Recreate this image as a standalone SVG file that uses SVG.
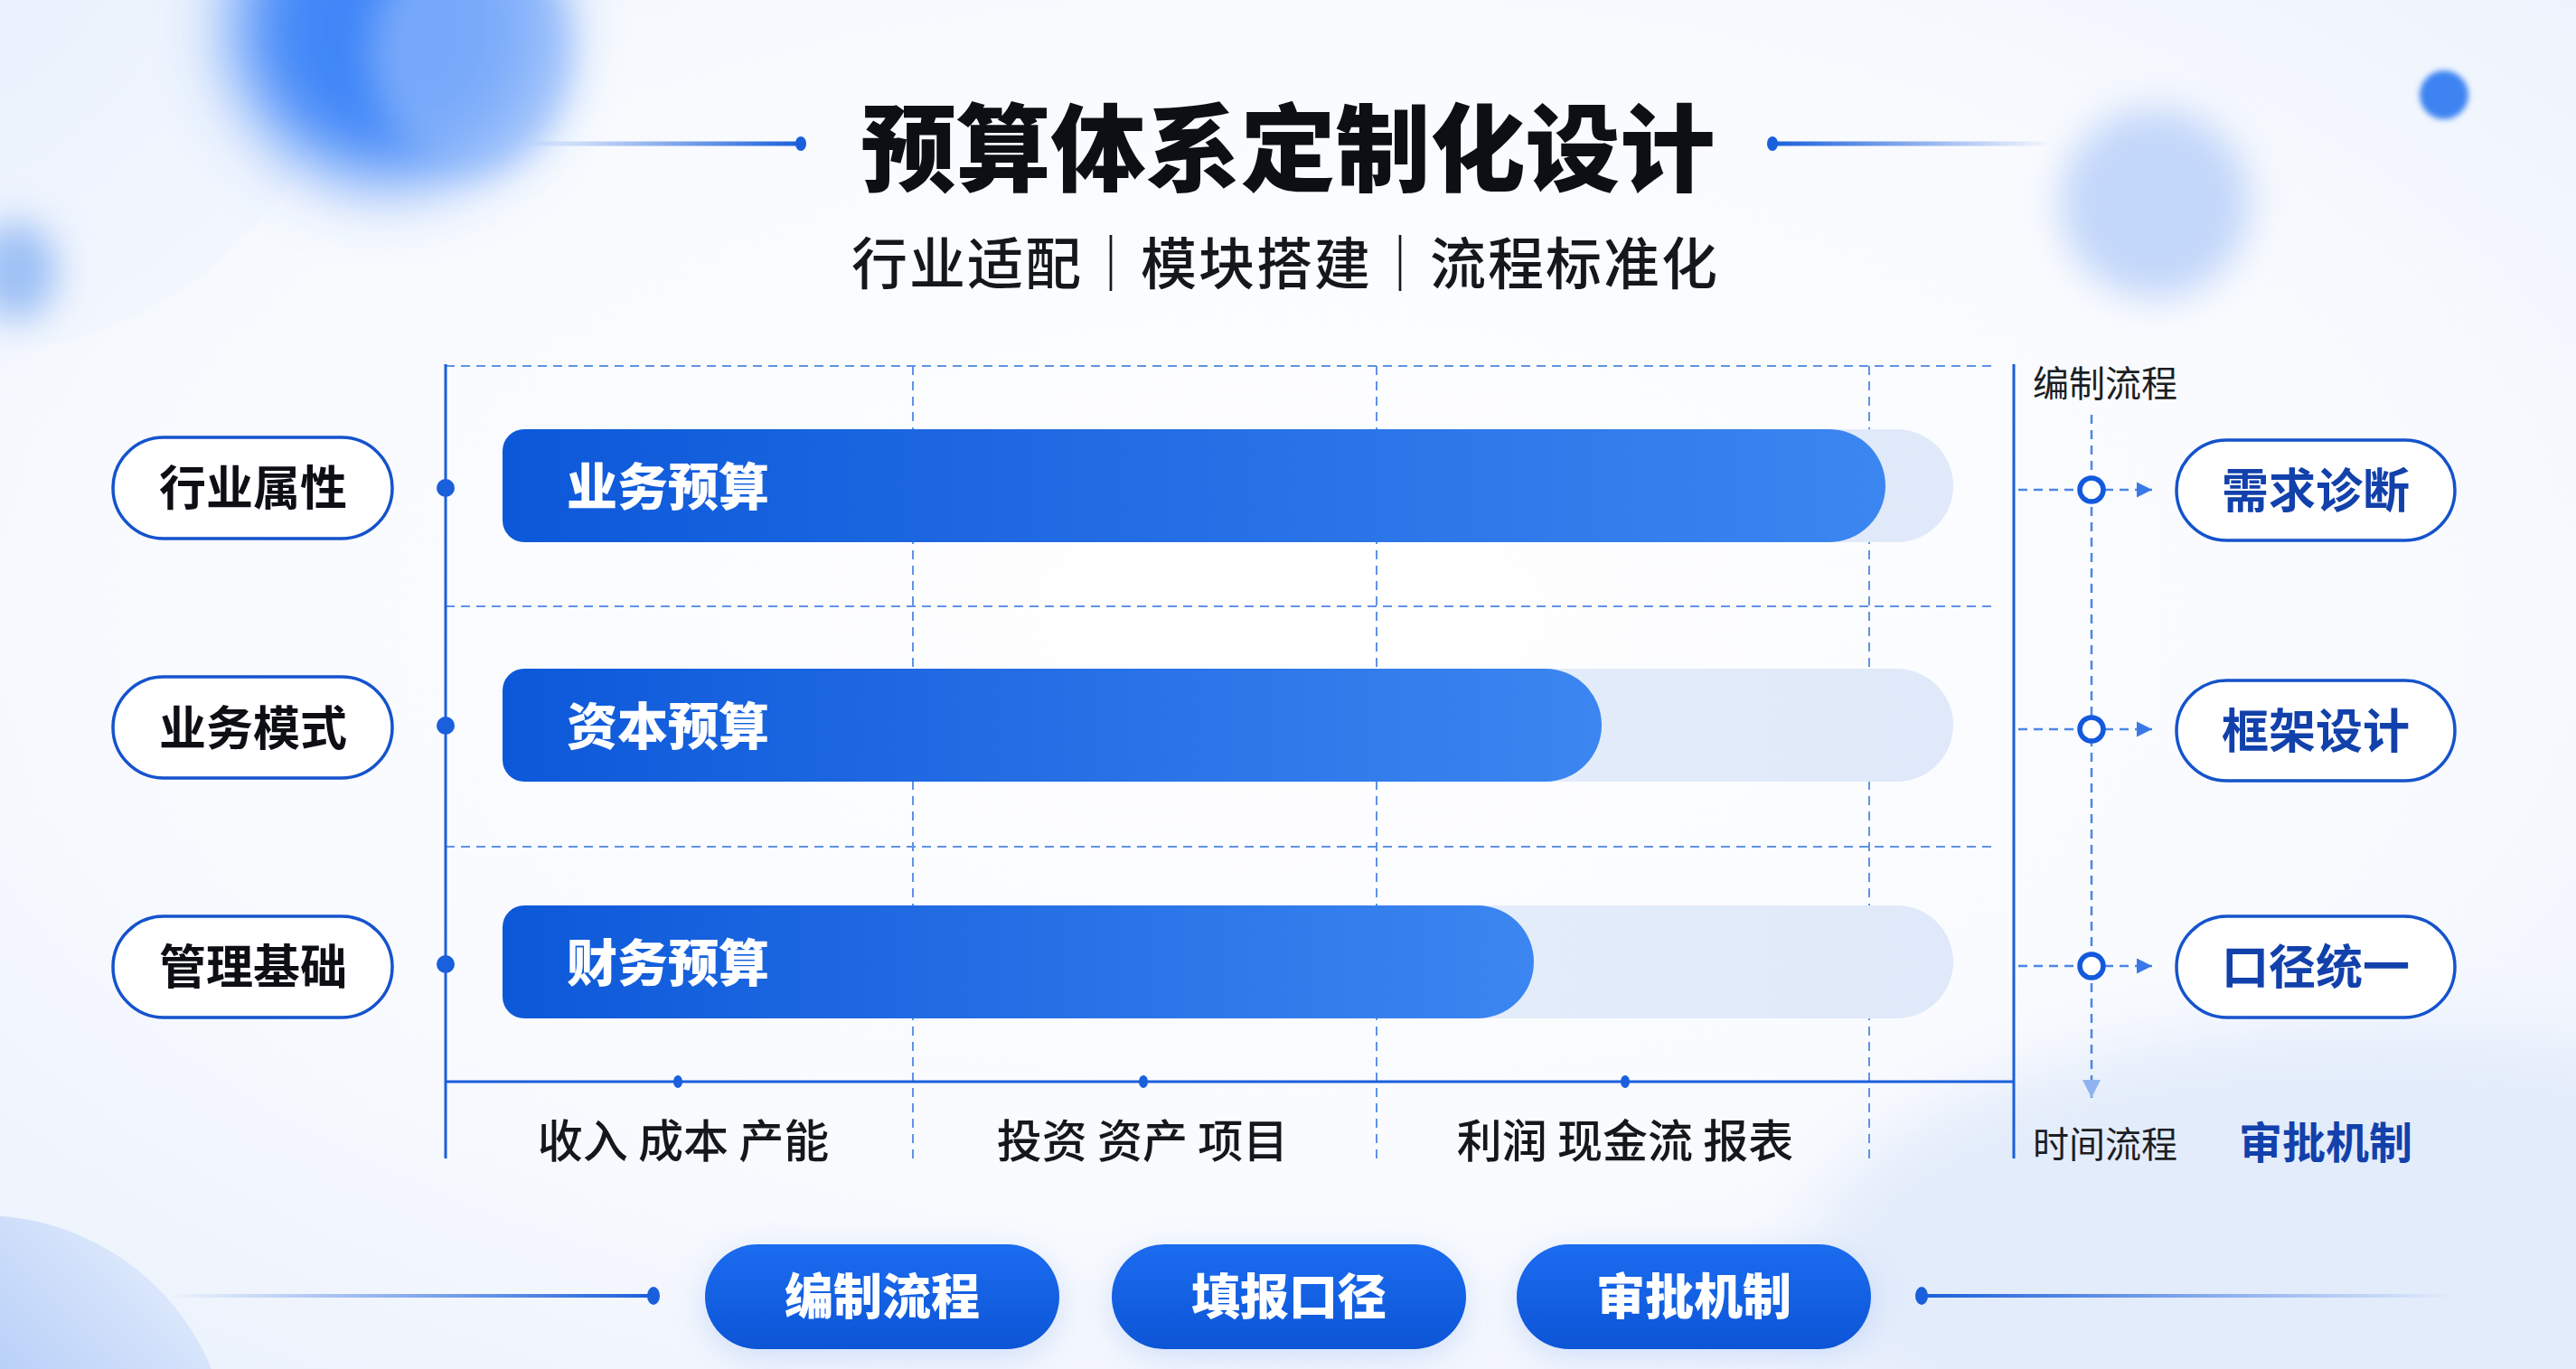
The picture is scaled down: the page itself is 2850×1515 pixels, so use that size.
<svg xmlns="http://www.w3.org/2000/svg" width="2850" height="1515" viewBox="0 0 2850 1515">
<defs>
<style>
.cjk{font-family:"Noto Sans CJK SC","Noto Sans CJK TC",sans-serif;}
.title{font-size:105px;font-weight:900;fill:#0d0f14;}
.sub{font-size:62px;font-weight:500;fill:#15171c;}
.pillL{fill:#ffffff;stroke:#1553cc;stroke-width:3.5;}
.pillLt{font-size:52px;font-weight:700;fill:#0d0f14;}
.pillRt{font-size:52px;font-weight:700;fill:#1241ab;}
.barT{font-size:56px;font-weight:800;fill:#ffffff;}
.axisT{font-size:50px;font-weight:500;fill:#15171c;}
.small{font-size:40px;font-weight:400;fill:#1c1e24;}
.btnT{font-size:54px;font-weight:800;fill:#ffffff;}
.grid{stroke:#5f93e6;stroke-width:2;stroke-dasharray:10 7;fill:none;}
.axis{stroke:#1a5fdc;stroke-width:3;fill:none;}
.flow{stroke:#4d86e6;stroke-width:2.5;stroke-dasharray:10 7;fill:none;}
.ring{fill:#ffffff;stroke:#1459dd;stroke-width:5.5;}
.dot{fill:#1a5fdc;}
</style>
<linearGradient id="barG" x1="0" y1="0" x2="1" y2="0">
<stop offset="0" stop-color="#0d58d9"/>
<stop offset="1" stop-color="#3c86f1"/>
</linearGradient>
<linearGradient id="trackG" x1="0" y1="0" x2="1" y2="0">
<stop offset="0" stop-color="#eef3fc"/>
<stop offset="1" stop-color="#dfe9f9"/>
</linearGradient>
<linearGradient id="btnG" x1="0" y1="0" x2="0" y2="1">
<stop offset="0" stop-color="#1c6cf0"/>
<stop offset="1" stop-color="#0c55d6"/>
</linearGradient>
<linearGradient id="lineL" x1="0" y1="0" x2="1" y2="0">
<stop offset="0" stop-color="#1a5fdc" stop-opacity="0"/>
<stop offset="1" stop-color="#1a5fdc"/>
</linearGradient>
<linearGradient id="lineR" x1="0" y1="0" x2="1" y2="0">
<stop offset="0" stop-color="#1a5fdc"/>
<stop offset="1" stop-color="#1a5fdc" stop-opacity="0"/>
</linearGradient>
<radialGradient id="bgG" cx="0.5" cy="0.45" r="0.75">
<stop offset="0" stop-color="#ffffff"/>
<stop offset="0.6" stop-color="#f8fafe"/>
<stop offset="1" stop-color="#eaf1fc"/>
</radialGradient>
<radialGradient id="paleG" cx="0.3" cy="0.3" r="0.8">
<stop offset="0" stop-color="#e4edfc"/>
<stop offset="1" stop-color="#f3f7fe"/>
</radialGradient>
<linearGradient id="blBlob" x1="0" y1="1" x2="1" y2="0">
<stop offset="0" stop-color="#7ea8f3"/>
<stop offset="0.6" stop-color="#b7cff8"/>
<stop offset="1" stop-color="#eef4fd"/>
</linearGradient>
<filter id="blur40" x="-50%" y="-50%" width="200%" height="200%"><feGaussianBlur stdDeviation="40"/></filter>
<filter id="blur20" x="-50%" y="-50%" width="200%" height="200%"><feGaussianBlur stdDeviation="20"/></filter>
<filter id="blur3" x="-50%" y="-50%" width="200%" height="200%"><feGaussianBlur stdDeviation="3"/></filter>
<marker id="arrR" viewBox="0 0 10 10" refX="10" refY="5" markerWidth="17" markerHeight="20" markerUnits="userSpaceOnUse" orient="auto">
<path d="M0,0 L10,5 L0,10 Z" fill="#3a78e8"/>
</marker>
<marker id="arrD" viewBox="0 0 10 10" refX="10" refY="5" markerWidth="20" markerHeight="24" markerUnits="userSpaceOnUse" orient="auto">
<path d="M0,0 L10,5 L0,10 Z" fill="#8fb3f0"/>
</marker>
</defs>

<g id="background">
<rect x="0" y="0" width="2850" height="1515" fill="url(#bgG)"/>
<ellipse cx="2600" cy="1400" rx="600" ry="260" fill="#e3ecfb" filter="url(#blur40)"/>
<circle cx="-30" cy="-30" r="420" fill="url(#paleG)"/>
<ellipse cx="430" cy="30" rx="170" ry="170" fill="#3f86f8" filter="url(#blur40)"/>
<ellipse cx="520" cy="60" rx="110" ry="130" fill="#8fb8fb" filter="url(#blur20)" opacity="0.7"/>
<ellipse cx="18" cy="300" rx="45" ry="55" fill="#9cc0f5" filter="url(#blur20)"/>
<circle cx="2384" cy="225" r="105" fill="#c3d7fa" filter="url(#blur20)"/>
<circle cx="2704" cy="105" r="27" fill="#3d83f2" filter="url(#blur3)"/>
<circle cx="-20" cy="1620" r="275" fill="url(#blBlob)"/>
</g>

<g id="title">
<text class="cjk title" x="1425" y="203" text-anchor="middle">预算体系定制化设计</text>
<text class="cjk sub" x="1422" y="315" text-anchor="middle" letter-spacing="2">行业适配｜模块搭建｜流程标准化</text>
</g>

<g id="connectors">
<!-- title lines -->
<rect x="582" y="156.5" width="304" height="5" fill="url(#lineL)"/>
<ellipse cx="886" cy="159" rx="6" ry="8" class="dot"/>
<rect x="1961" y="156.5" width="309" height="5" fill="url(#lineR)"/>
<ellipse cx="1961" cy="159" rx="6" ry="8" class="dot"/>
<!-- grid -->
<line class="grid" x1="493" y1="405" x2="2207" y2="405"/>
<line class="grid" x1="493" y1="671" x2="2207" y2="671"/>
<line class="grid" x1="493" y1="937" x2="2207" y2="937"/>
<line class="grid" x1="1010" y1="405" x2="1010" y2="1282"/>
<line class="grid" x1="1523" y1="405" x2="1523" y2="1282"/>
<line class="grid" x1="2068" y1="405" x2="2068" y2="1282"/>
<!-- axes -->
<line class="axis" x1="493" y1="403" x2="493" y2="1282"/>
<line class="axis" x1="2228" y1="403" x2="2228" y2="1282"/>
<line class="axis" x1="493" y1="1197" x2="2228" y2="1197"/>
<ellipse cx="750" cy="1197" rx="5" ry="7" class="dot"/>
<ellipse cx="1265" cy="1197" rx="5" ry="7" class="dot"/>
<ellipse cx="1798" cy="1197" rx="5" ry="7" class="dot"/>
<circle cx="493" cy="540" r="10" class="dot"/>
<circle cx="493" cy="803" r="10" class="dot"/>
<circle cx="493" cy="1067" r="10" class="dot"/>
<!-- flow on right -->
<line class="flow" x1="2314" y1="459" x2="2314" y2="1215" marker-end="url(#arrD)"/>
<line class="flow" x1="2233" y1="542" x2="2300" y2="542"/>
<line class="flow" x1="2328" y1="542" x2="2381" y2="542" marker-end="url(#arrR)"/>
<line class="flow" x1="2233" y1="807" x2="2300" y2="807"/>
<line class="flow" x1="2328" y1="807" x2="2381" y2="807" marker-end="url(#arrR)"/>
<line class="flow" x1="2233" y1="1069" x2="2300" y2="1069"/>
<line class="flow" x1="2328" y1="1069" x2="2381" y2="1069" marker-end="url(#arrR)"/>
<circle class="ring" cx="2314" cy="542" r="13"/>
<circle class="ring" cx="2314" cy="807" r="13"/>
<circle class="ring" cx="2314" cy="1069" r="13"/>
<!-- bottom lines -->
<rect x="188" y="1432" width="535" height="4" fill="url(#lineL)"/>
<ellipse cx="723" cy="1434" rx="7" ry="10" class="dot"/>
<rect x="2126" y="1432" width="590" height="4" fill="url(#lineR)"/>
<ellipse cx="2126" cy="1434" rx="7" ry="10" class="dot"/>
</g>

<g id="bar-business">
<path d="M580,475 H2098.5 A62.5,62.5 0 0 1 2098.5,600 H580 A24,24 0 0 1 556,576 V499 A24,24 0 0 1 580,475 Z" fill="url(#trackG)"/>
<path d="M580,475 H2023.5 A62.5,62.5 0 0 1 2023.5,600 H580 A24,24 0 0 1 556,576 V499 A24,24 0 0 1 580,475 Z" fill="url(#barG)"/>
<text class="cjk barT" x="627" y="559">业务预算</text>
</g>
<g id="bar-capital">
<path d="M580,740 H2098.5 A62.5,62.5 0 0 1 2098.5,865 H580 A24,24 0 0 1 556,841 V764 A24,24 0 0 1 580,740 Z" fill="url(#trackG)"/>
<path d="M580,740 H1709.5 A62.5,62.5 0 0 1 1709.5,865 H580 A24,24 0 0 1 556,841 V764 A24,24 0 0 1 580,740 Z" fill="url(#barG)"/>
<text class="cjk barT" x="627" y="824">资本预算</text>
</g>
<g id="bar-finance">
<path d="M580,1002 H2098.5 A62.5,62.5 0 0 1 2098.5,1127 H580 A24,24 0 0 1 556,1103 V1026 A24,24 0 0 1 580,1002 Z" fill="url(#trackG)"/>
<path d="M580,1002 H1634.5 A62.5,62.5 0 0 1 1634.5,1127 H580 A24,24 0 0 1 556,1103 V1026 A24,24 0 0 1 580,1002 Z" fill="url(#barG)"/>
<text class="cjk barT" x="627" y="1086">财务预算</text>
</g>

<g id="pill-industry">
<rect class="pillL" x="125" y="484" width="309" height="112" rx="56"/>
<text class="cjk pillLt" x="280" y="559" text-anchor="middle">行业属性</text>
</g>
<g id="pill-model">
<rect class="pillL" x="125" y="749" width="309" height="112" rx="56"/>
<text class="cjk pillLt" x="280" y="825" text-anchor="middle">业务模式</text>
</g>
<g id="pill-mgmt">
<rect class="pillL" x="125" y="1014" width="309" height="112" rx="56"/>
<text class="cjk pillLt" x="280" y="1089" text-anchor="middle">管理基础</text>
</g>

<g id="pill-diagnosis">
<rect class="pillL" x="2408" y="487" width="308" height="111" rx="55.5"/>
<text class="cjk pillRt" x="2562" y="562" text-anchor="middle">需求诊断</text>
</g>
<g id="pill-framework">
<rect class="pillL" x="2408" y="753" width="308" height="111" rx="55.5"/>
<text class="cjk pillRt" x="2562" y="828" text-anchor="middle">框架设计</text>
</g>
<g id="pill-caliber">
<rect class="pillL" x="2408" y="1014" width="308" height="112" rx="56"/>
<text class="cjk pillRt" x="2562" y="1089" text-anchor="middle">口径统一</text>
</g>

<g id="labels">
<text class="cjk small" x="2249" y="439">编制流程</text>
<text class="cjk small" x="2249" y="1281">时间流程</text>
<text class="cjk" x="2573" y="1282" text-anchor="middle" font-size="48" font-weight="700" fill="#1241ab">审批机制</text>
<text class="cjk axisT" x="756" y="1281" text-anchor="middle" xml:space="preserve">收入 成本 产能</text>
<text class="cjk axisT" x="1264" y="1281" text-anchor="middle" xml:space="preserve">投资 资产 项目</text>
<text class="cjk axisT" x="1798" y="1281" text-anchor="middle" xml:space="preserve">利润 现金流 报表</text>
</g>

<g id="btn-compile">
<rect x="784" y="1392" width="384" height="104" rx="52" fill="#6f9cf0" opacity="0.35" filter="url(#blur20)"/>
<rect x="780" y="1377" width="392" height="116" rx="58" fill="url(#btnG)"/>
<text class="cjk btnT" x="976" y="1455" text-anchor="middle">编制流程</text>
</g>
<g id="btn-report">
<rect x="1234" y="1392" width="384" height="104" rx="52" fill="#6f9cf0" opacity="0.35" filter="url(#blur20)"/>
<rect x="1230" y="1377" width="392" height="116" rx="58" fill="url(#btnG)"/>
<text class="cjk btnT" x="1426" y="1455" text-anchor="middle">填报口径</text>
</g>
<g id="btn-approve">
<rect x="1682" y="1392" width="384" height="104" rx="52" fill="#6f9cf0" opacity="0.35" filter="url(#blur20)"/>
<rect x="1678" y="1377" width="392" height="116" rx="58" fill="url(#btnG)"/>
<text class="cjk btnT" x="1874" y="1455" text-anchor="middle">审批机制</text>
</g>
</svg>
